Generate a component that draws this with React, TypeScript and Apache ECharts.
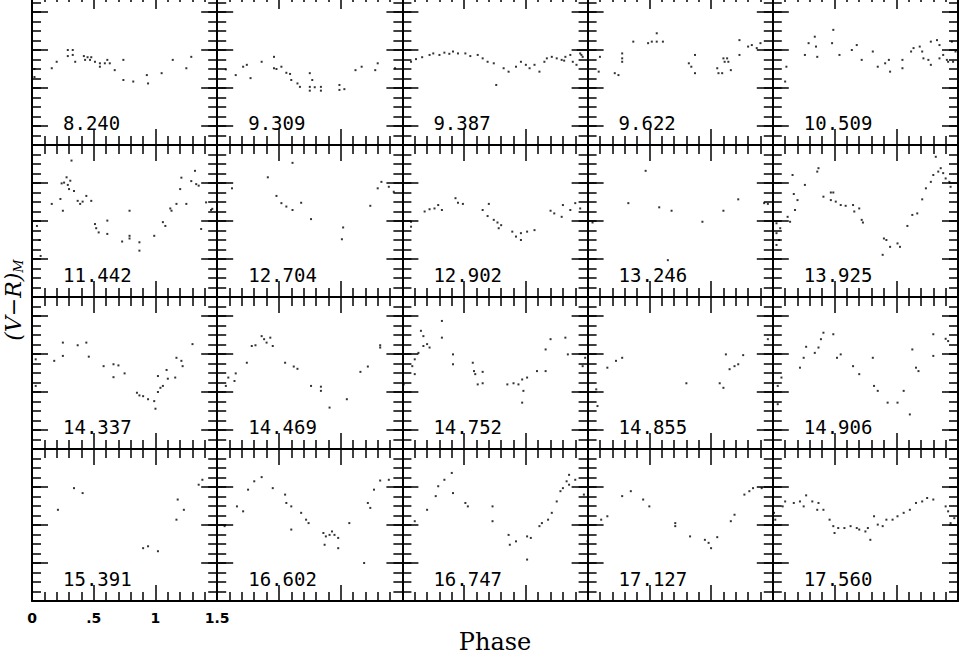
import React, { useEffect, useRef } from "react";
import * as echarts from "echarts";

// Panel labels (periods)
const periods = [
  "8.240", "9.309", "9.387", "9.622", "10.509",
  "11.442", "12.704", "12.902", "13.246", "13.925",
  "14.337", "14.469", "14.752", "14.855", "14.906",
  "15.391", "16.602", "16.747", "17.127", "17.560",
];

// [phase, (V-R) offset] per panel
const p8240 = [[0.02,0.200],[0.02,0.179],[0.16,0.202],[0.20,0.219],[0.29,0.250],[0.33,0.250],[0.29,0.234],[0.33,0.237],[0.35,0.219],[0.42,0.234],[0.45,0.231],[0.43,0.224],[0.47,0.224],[0.48,0.231],[0.51,0.219],[0.55,0.215],[0.55,0.206],[0.59,0.215],[0.61,0.224],[0.63,0.215],[0.67,0.197],[0.74,0.224],[0.74,0.171],[0.82,0.167],[0.93,0.184],[0.94,0.162],[1.05,0.189],[1.14,0.224],[1.25,0.202],[1.29,0.232]];
const p9309 = [[0.07,0.199],[0.15,0.184],[0.21,0.206],[0.24,0.211],[0.27,0.176],[0.36,0.219],[0.46,0.232],[0.46,0.202],[0.48,0.200],[0.52,0.206],[0.56,0.190],[0.59,0.187],[0.60,0.171],[0.65,0.162],[0.67,0.153],[0.75,0.189],[0.75,0.153],[0.77,0.171],[0.75,0.143],[0.79,0.152],[0.84,0.143],[0.84,0.153],[0.99,0.158],[0.99,0.145],[1.03,0.147],[1.12,0.197],[1.17,0.206],[1.28,0.197],[1.30,0.215],[1.44,0.202]];
const p9387 = [[0.07,0.219],[0.11,0.226],[0.16,0.231],[0.22,0.237],[0.25,0.241],[0.30,0.237],[0.34,0.243],[0.38,0.240],[0.41,0.246],[0.45,0.241],[0.51,0.241],[0.55,0.234],[0.61,0.237],[0.65,0.228],[0.69,0.219],[0.74,0.215],[0.76,0.158],[0.82,0.202],[0.86,0.193],[0.92,0.206],[0.96,0.219],[1.00,0.211],[1.03,0.202],[1.07,0.211],[1.11,0.193],[1.15,0.219],[1.17,0.228],[1.21,0.232],[1.25,0.228],[1.29,0.224],[1.31,0.222],[1.32,0.232],[1.36,0.237],[1.38,0.219],[1.41,0.211],[1.42,0.250],[1.44,0.241],[1.45,0.237],[1.46,0.232]];
const p9622 = [[0.09,0.193],[0.10,0.232],[0.22,0.189],[0.25,0.184],[0.28,0.241],[0.28,0.228],[0.28,0.219],[0.37,0.272],[0.49,0.268],[0.52,0.272],[0.56,0.294],[0.56,0.272],[0.61,0.272],[0.82,0.215],[0.84,0.206],[0.87,0.237],[0.87,0.189],[1.05,0.202],[1.06,0.189],[1.09,0.189],[1.10,0.228],[1.11,0.219],[1.13,0.228],[1.14,0.219],[1.16,0.197],[1.23,0.237],[1.23,0.276],[1.30,0.259],[1.33,0.263],[1.37,0.255],[1.40,0.268]];
const p10509 = [[0.10,0.167],[0.11,0.206],[0.26,0.237],[0.29,0.268],[0.34,0.285],[0.35,0.259],[0.36,0.232],[0.48,0.268],[0.49,0.303],[0.54,0.237],[0.64,0.250],[0.68,0.263],[0.72,0.224],[0.81,0.246],[0.85,0.206],[0.91,0.215],[0.94,0.224],[0.95,0.193],[1.05,0.224],[1.05,0.202],[1.12,0.246],[1.14,0.255],[1.19,0.259],[1.21,0.246],[1.22,0.228],[1.26,0.224],[1.28,0.272],[1.28,0.211],[1.33,0.276],[1.35,0.263],[1.35,0.228],[1.38,0.237],[1.41,0.224],[1.42,0.219],[1.45,0.272],[1.46,0.219],[1.48,0.246]];
const p11442 = [[0.04,0.187],[0.06,0.150],[0.07,0.108],[0.16,0.245],[0.23,0.258],[0.25,0.227],[0.24,0.299],[0.26,0.301],[0.28,0.315],[0.29,0.295],[0.31,0.306],[0.30,0.284],[0.32,0.359],[0.34,0.279],[0.37,0.253],[0.39,0.245],[0.41,0.251],[0.44,0.266],[0.48,0.253],[0.51,0.192],[0.52,0.181],[0.54,0.170],[0.61,0.201],[0.61,0.166],[0.73,0.146],[0.79,0.227],[0.79,0.161],[0.79,0.154],[0.87,0.144],[0.87,0.122],[0.99,0.161],[1.06,0.197],[1.08,0.187],[1.12,0.233],[1.13,0.227],[1.17,0.245],[1.20,0.284],[1.21,0.314],[1.25,0.245],[1.29,0.305],[1.32,0.332],[1.33,0.297],[1.35,0.293],[1.37,0.179],[1.41,0.249],[1.45,0.229],[1.46,0.232]];
const p12704 = [[0.12,0.286],[0.41,0.315],[0.61,0.353],[0.48,0.266],[0.52,0.247],[0.56,0.238],[0.61,0.229],[0.68,0.248],[0.76,0.205],[1.02,0.183],[1.01,0.152],[1.24,0.240],[1.30,0.286],[1.33,0.303],[1.39,0.290],[1.43,0.277]];
const p12902 = [[0.07,0.198],[0.07,0.185],[0.18,0.225],[0.22,0.231],[0.26,0.233],[0.29,0.242],[0.32,0.229],[0.43,0.260],[0.45,0.248],[0.49,0.245],[0.70,0.245],[0.65,0.229],[0.69,0.213],[0.74,0.203],[0.77,0.196],[0.80,0.189],[0.78,0.181],[0.89,0.172],[0.92,0.159],[0.96,0.168],[0.96,0.150],[1.01,0.172],[1.07,0.176],[1.20,0.227],[1.23,0.220],[1.29,0.211],[1.30,0.242],[1.36,0.229],[1.40,0.247],[1.44,0.233]];
const p13246 = [[0.04,0.196],[0.33,0.247],[0.47,0.332],[0.58,0.236],[0.68,0.227],[0.65,0.097],[0.93,0.198],[1.10,0.227],[1.22,0.257],[1.43,0.247],[1.46,0.245]];
const p13925 = [[0.03,0.194],[0.03,0.168],[0.05,0.150],[0.03,0.137],[0.06,0.181],[0.12,0.211],[0.14,0.198],[0.16,0.321],[0.17,0.271],[0.18,0.229],[0.20,0.255],[0.26,0.295],[0.36,0.330],[0.37,0.339],[0.41,0.264],[0.47,0.275],[0.49,0.275],[0.47,0.255],[0.51,0.251],[0.55,0.242],[0.59,0.240],[0.65,0.242],[0.66,0.225],[0.70,0.233],[0.72,0.203],[0.73,0.196],[0.90,0.154],[0.92,0.150],[0.89,0.111],[0.95,0.132],[1.01,0.141],[1.03,0.132],[1.09,0.187],[1.13,0.216],[1.17,0.220],[1.21,0.257],[1.24,0.286],[1.28,0.303],[1.30,0.321],[1.34,0.330],[1.36,0.339],[1.38,0.326],[1.40,0.312],[1.43,0.303],[1.44,0.290],[1.32,0.369]];
const p14337 = [[0.03,0.166],[0.03,0.236],[0.18,0.232],[0.25,0.245],[0.25,0.280],[0.37,0.273],[0.44,0.280],[0.46,0.243],[0.58,0.218],[0.66,0.223],[0.70,0.220],[0.66,0.189],[0.75,0.199],[0.85,0.148],[0.87,0.141],[0.90,0.139],[0.94,0.131],[0.99,0.126],[1.00,0.106],[1.02,0.150],[1.02,0.192],[1.04,0.161],[1.06,0.166],[1.09,0.208],[1.10,0.185],[1.16,0.188],[1.17,0.240],[1.21,0.232],[1.22,0.218],[1.30,0.276]];
const p14469 = [[0.07,0.166],[0.09,0.188],[0.14,0.179],[0.15,0.199],[0.24,0.227],[0.28,0.271],[0.31,0.273],[0.36,0.297],[0.38,0.289],[0.40,0.280],[0.43,0.293],[0.45,0.271],[0.55,0.227],[0.62,0.217],[0.65,0.211],[0.76,0.166],[0.84,0.164],[0.84,0.153],[0.91,0.109],[1.05,0.131],[1.16,0.203],[1.22,0.217],[1.32,0.273],[1.32,0.267]];
const p14752 = [[0.01,0.170],[0.08,0.218],[0.10,0.197],[0.10,0.236],[0.13,0.253],[0.15,0.311],[0.17,0.297],[0.17,0.271],[0.20,0.276],[0.22,0.267],[0.32,0.337],[0.32,0.293],[0.41,0.249],[0.41,0.223],[0.57,0.227],[0.58,0.205],[0.59,0.197],[0.61,0.170],[0.65,0.203],[0.65,0.173],[0.85,0.170],[0.90,0.173],[0.94,0.170],[0.97,0.183],[0.98,0.153],[0.97,0.122],[1.01,0.188],[1.09,0.205],[1.16,0.205],[1.16,0.262],[1.20,0.289],[1.32,0.293],[1.34,0.249],[1.46,0.218],[1.48,0.240]];
const p14855 = [[0.07,0.157],[0.08,0.113],[0.16,0.214],[0.23,0.232],[0.28,0.240],[0.80,0.173],[1.07,0.173],[1.10,0.161],[1.12,0.249],[1.15,0.210],[1.19,0.218],[1.22,0.223],[1.26,0.247],[1.46,0.289]];
const p14906 = [[0.04,0.166],[0.04,0.118],[0.07,0.188],[0.22,0.214],[0.25,0.240],[0.27,0.269],[0.34,0.253],[0.37,0.267],[0.39,0.289],[0.41,0.306],[0.49,0.302],[0.52,0.240],[0.55,0.249],[0.65,0.218],[0.70,0.197],[0.81,0.240],[0.82,0.166],[0.85,0.153],[0.93,0.122],[1.01,0.122],[1.06,0.153],[1.11,0.091],[1.13,0.262],[1.16,0.214],[1.18,0.205],[1.30,0.245],[1.30,0.302],[1.40,0.290],[1.42,0.284]];
const p15391 = [[0.21,0.240],[0.34,0.297],[0.41,0.284],[0.90,0.139],[0.94,0.144],[1.02,0.131],[1.18,0.267],[1.17,0.214],[1.23,0.240],[1.35,0.306],[1.38,0.319]];
const p16602 = [[0.06,0.197],[0.16,0.249],[0.21,0.236],[0.25,0.293],[0.30,0.315],[0.36,0.326],[0.45,0.297],[0.55,0.280],[0.56,0.258],[0.60,0.249],[0.60,0.188],[0.68,0.232],[0.72,0.214],[0.74,0.205],[0.86,0.179],[0.88,0.170],[0.91,0.174],[0.93,0.183],[0.95,0.174],[0.98,0.166],[0.87,0.148],[0.98,0.139],[1.07,0.205],[1.19,0.100],[1.22,0.258],[1.24,0.245],[1.27,0.293],[1.32,0.317],[1.39,0.319]];
const p16747 = [[0.10,0.210],[0.20,0.240],[0.27,0.276],[0.29,0.302],[0.34,0.319],[0.40,0.337],[0.41,0.284],[0.51,0.258],[0.53,0.249],[0.73,0.249],[0.73,0.210],[0.86,0.174],[0.87,0.148],[0.92,0.157],[1.01,0.109],[1.01,0.170],[1.04,0.166],[1.11,0.197],[1.13,0.205],[1.18,0.214],[1.21,0.232],[1.25,0.262],[1.28,0.289],[1.30,0.297],[1.33,0.315],[1.35,0.306],[1.35,0.332],[1.40,0.319],[1.47,0.280]];
const p17127 = [[0.00,0.157],[0.11,0.214],[0.16,0.223],[0.28,0.276],[0.35,0.289],[0.45,0.267],[0.50,0.249],[0.71,0.205],[0.71,0.197],[0.83,0.170],[0.95,0.161],[0.98,0.153],[1.00,0.139],[1.05,0.168],[1.16,0.210],[1.19,0.227],[1.27,0.280],[1.31,0.289],[1.34,0.297],[1.41,0.297]];
const p17560 = [[0.01,0.232],[0.02,0.214],[0.08,0.249],[0.10,0.262],[0.17,0.258],[0.22,0.262],[0.25,0.249],[0.27,0.278],[0.32,0.262],[0.37,0.258],[0.36,0.240],[0.41,0.240],[0.46,0.214],[0.49,0.197],[0.50,0.179],[0.53,0.192],[0.58,0.192],[0.63,0.197],[0.68,0.192],[0.70,0.188],[0.75,0.183],[0.77,0.192],[0.79,0.161],[0.82,0.223],[0.85,0.201],[0.89,0.197],[0.92,0.214],[0.97,0.214],[1.01,0.223],[1.06,0.232],[1.11,0.240],[1.16,0.258],[1.21,0.262],[1.25,0.271],[1.30,0.267],[1.40,0.249],[1.42,0.236],[1.44,0.205],[1.47,0.218]];

const panels = [
  p8240, p9309, p9387, p9622, p10509,
  p11442, p12704, p12902, p13246, p13925,
  p14337, p14469, p14752, p14855, p14906,
  p15391, p16602, p16747, p17127, p17560,
];

// Axis ticks
const xTickLabels = ["0", ".5", "1", "1.5"];
const yMajorOffsetRows = [0.05, 0.15, 0.25, 0.35];
const yMajorAlignedRows = [0.1, 0.2, 0.3];
const yMinorTicks = [0.025, 0.05, 0.075, 0.1, 0.125, 0.15, 0.175, 0.2, 0.225, 0.25, 0.275, 0.3, 0.325, 0.35, 0.375];

const COLS = 5;
const LEFT = 32;
const COL_W = 185.2;
const ROW_H = 152;

const BLACK = "#000";

function buildOption() {
  const grid: any[] = [];
  const xAxis: any[] = [];
  const yAxis: any[] = [];
  const series: any[] = [];
  const graphic: any[] = [];

  panels.forEach((data, i) => {
    const r = Math.floor(i / COLS);
    const c = i % COLS;
    const left = LEFT + c * COL_W;
    const top = r * ROW_H;
    grid.push({ left, top, width: COL_W, height: ROW_H, containLabel: false, outerBoundsMode: "none" });

    const showLab = r === 3 && c === 0;
    const xBase = {
      type: "value",
      gridIndex: i,
      min: 0,
      max: 1.5,
      interval: 0.5,
      axisLine: { show: true, onZero: false, lineStyle: { color: BLACK, width: 2 } },
      axisTick: { show: true, inside: true, length: 16, lineStyle: { color: BLACK, width: 1.5 } },
      minorTick: { show: true, splitNumber: 5, length: 9, lineStyle: { color: BLACK, width: 1.5 } },
      splitLine: { show: false },
      minorSplitLine: { show: false },
    };
    xAxis.push({
      ...xBase,
      position: "bottom",
      axisLabel: showLab
        ? {
            show: true,
            margin: 10,
            fontSize: 14,
            fontWeight: "bold",
            fontFamily: "DejaVu Sans",
            color: BLACK,
            showMinLabel: true,
            showMaxLabel: true,
            formatter: (v: number) => xTickLabels[Math.round(v / 0.5)],
          }
        : { show: false },
    });
    xAxis.push({ ...xBase, position: "top", axisLabel: { show: false } });

    const majors = r % 2 === 0 ? yMajorOffsetRows : yMajorAlignedRows;
    const yBase = {
      type: "value",
      gridIndex: i,
      min: 0,
      max: 0.4,
      splitLine: { show: false },
      axisLabel: { show: false },
    };
    const majorAxis = (pos: string) => ({
      ...yBase,
      position: pos,
      axisLine: { show: true, onZero: false, lineStyle: { color: BLACK, width: 2 } },
      axisTick: { show: true, inside: true, length: 16, customValues: majors, lineStyle: { color: BLACK, width: 1.5 } },
    });
    const minorAxis = (pos: string) => ({
      ...yBase,
      position: pos,
      axisLine: { show: false, onZero: false },
      axisTick: { show: true, inside: true, length: 9, customValues: yMinorTicks, lineStyle: { color: BLACK, width: 1.5 } },
    });
    yAxis.push(majorAxis("left"), majorAxis("right"), minorAxis("left"), minorAxis("right"));

    series.push({
      type: "scatter",
      xAxisIndex: 2 * i,
      yAxisIndex: 4 * i,
      data,
      symbol: "rect",
      symbolSize: 2,
      itemStyle: { color: BLACK },
      silent: true,
    });

    graphic.push({
      type: "text",
      x: left + 31,
      y: top + ROW_H - 22,
      style: {
        text: periods[i],
        fill: BLACK,
        fontSize: 19,
        fontFamily: "DejaVu Sans Mono",
        align: "left",
        verticalAlign: "middle",
      },
    });
  });

  graphic.push({
    type: "text",
    x: 495,
    y: 649,
    style: {
      text: "Phase",
      fill: BLACK,
      fontSize: 24,
      fontFamily: "DejaVu Serif",
      align: "center",
      verticalAlign: "middle",
    },
  });
  graphic.push({
    type: "text",
    x: 13,
    y: 307,
    rotation: Math.PI / 2,
    style: {
      text: "{a|(V−R)}{b|M}",
      fill: BLACK,
      align: "center",
      verticalAlign: "middle",
      rich: {
        a: { fontSize: 22, fontFamily: "DejaVu Serif", fontStyle: "italic", fill: BLACK },
        b: { fontSize: 13, fontFamily: "DejaVu Serif", fontStyle: "italic", fill: BLACK, padding: [10, 0, 0, 0] },
      },
    },
  });

  return { animation: false, backgroundColor: "#fff", grid, xAxis, yAxis, series, graphic };
}

export default function App() {
  const ref = useRef<HTMLDivElement>(null);
  useEffect(() => {
    if (!ref.current) return;
    const chart = echarts.init(ref.current, undefined, { renderer: "svg" });
    chart.setOption(buildOption() as any);
    return () => chart.dispose();
  }, []);
  return (
    <div
      ref={ref}
      style={{ position: "absolute", left: 0, top: -7, width: 959, height: 664, background: "#fff" }}
    />
  );
}
